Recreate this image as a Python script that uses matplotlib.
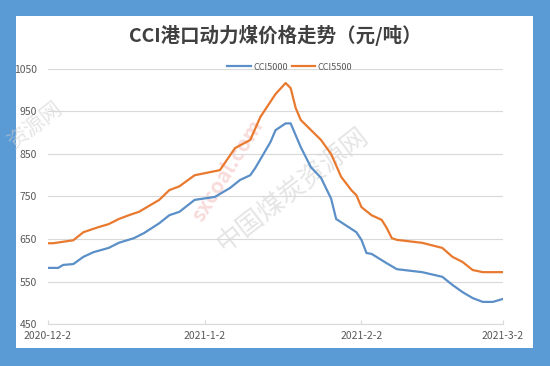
import matplotlib
matplotlib.use("Agg")
import matplotlib.pyplot as plt
from matplotlib.patches import Rectangle
import pandas as pd

plt.rcParams['font.family'] = ['Noto Sans CJK SC', 'DejaVu Sans']

title = "CCI港口动力煤价格走势（元/吨）"
series_names = ["CCI5000", "CCI5500"]

dates_5000 = ["2020-12-02", "2020-12-04", "2020-12-05", "2020-12-07", "2020-12-09", "2020-12-11",
              "2020-12-14", "2020-12-16", "2020-12-19", "2020-12-21", "2020-12-24", "2020-12-26",
              "2020-12-28", "2020-12-31", "2021-01-04", "2021-01-07", "2021-01-09", "2021-01-11",
              "2021-01-12", "2021-01-15", "2021-01-16", "2021-01-18", "2021-01-19", "2021-01-21",
              "2021-01-23", "2021-01-25", "2021-01-27", "2021-01-28", "2021-02-01", "2021-02-02",
              "2021-02-03", "2021-02-04", "2021-02-07", "2021-02-09", "2021-02-14", "2021-02-18",
              "2021-02-20", "2021-02-22", "2021-02-24", "2021-02-26", "2021-02-28", "2021-03-02"]
values_5000 = [582, 582, 589, 591, 608, 619,
               629, 641, 652, 664, 687, 706,
               714, 742, 749, 770, 789, 800,
               817, 878, 906, 922, 922, 866,
               819, 794, 745, 697, 666, 648,
               617, 615, 593, 579, 572, 561,
               542, 525, 511, 502, 502, 509]

dates_5500 = ["2020-12-02", "2020-12-03", "2020-12-07", "2020-12-09", "2020-12-12", "2020-12-14",
              "2020-12-16", "2020-12-18", "2020-12-20", "2020-12-21", "2020-12-24", "2020-12-26",
              "2020-12-28", "2020-12-31", "2021-01-05", "2021-01-08", "2021-01-11", "2021-01-13",
              "2021-01-16", "2021-01-18", "2021-01-19", "2021-01-20", "2021-01-21", "2021-01-25",
              "2021-01-27", "2021-01-29", "2021-01-31", "2021-02-01", "2021-02-02", "2021-02-04",
              "2021-02-06", "2021-02-07", "2021-02-08", "2021-02-09", "2021-02-14", "2021-02-18",
              "2021-02-20", "2021-02-22", "2021-02-24", "2021-02-26", "2021-03-02"]
values_5500 = [640, 640, 647, 666, 678, 685,
               697, 706, 714, 721, 742, 765,
               774, 800, 812, 864, 883, 937,
               991, 1017, 1005, 958, 930, 883,
               850, 796, 765, 753, 725, 706,
               695, 676, 652, 648, 641, 629,
               608, 596, 577, 572, 572]

x_tick_dates = ["2020-12-02", "2021-01-02", "2021-02-02", "2021-03-02"]
x_tick_labels = ["2020-12-2", "2021-1-2", "2021-2-2", "2021-3-2"]
y_ticks = [450, 550, 650, 750, 850, 950, 1050]

W, H = 550, 366
fig = plt.figure(figsize=(W / 100, H / 100), dpi=100)
fig.patch.set_facecolor("#5b9bd5")
panel = Rectangle((16 / W, 1 - 348 / H), (533 - 16) / W, (348 - 16) / H,
                  transform=fig.transFigure, facecolor="white", edgecolor="none", zorder=-10)
fig.patches.append(panel)

# faint watermark (behind the chart)
fig.text(228 / W, 1 - 170 / H, "sxcoal.com", rotation=58, fontsize=15, fontweight="bold",
         color="#f4c4c4", alpha=0.6, ha="center", va="center", zorder=-5)
fig.text(292 / W, 1 - 190 / H, "中国煤炭资源网", rotation=38, fontsize=19,
         color="#d0d0d0", alpha=0.55, ha="center", va="center", zorder=-5)
fig.text(35 / W, 1 - 125 / H, "资源网", rotation=38, fontsize=15,
         color="#d0d0d0", alpha=0.55, ha="center", va="center", zorder=-5)

ax = fig.add_axes([48 / W, 1 - 324 / H, (503 - 48) / W, (324 - 69) / H], zorder=1)
ax.set_facecolor("none")

d5000 = pd.to_datetime(dates_5000)
d5500 = pd.to_datetime(dates_5500)
l1, = ax.plot(d5000, values_5000, color="#5b8fc7", lw=1.6, solid_joinstyle="round", zorder=3)
l2, = ax.plot(d5500, values_5500, color="#e8792f", lw=1.6, solid_joinstyle="round", zorder=3)

ax.set_ylim(450, 1050)
ax.set_yticks(y_ticks)
ax.set_xlim(pd.Timestamp(x_tick_dates[0]), pd.Timestamp(x_tick_dates[-1]))
ax.set_xticks(pd.to_datetime(x_tick_dates))
ax.set_xticklabels(x_tick_labels)

ax.grid(axis="y", color="#d9d9d9", lw=0.8, zorder=1)
for s in ["top", "right", "left"]:
    ax.spines[s].set_visible(False)
ax.spines["bottom"].set_color("#d9d9d9")
ax.spines["bottom"].set_linewidth(0.8)
ax.tick_params(axis="y", length=0, pad=8, labelsize=7.5, labelcolor="#595959")
ax.tick_params(axis="x", length=3, direction="in", color="#d9d9d9", pad=5, labelsize=7.5, labelcolor="#595959")

fig.text(275 / W, 1 - 35 / H, title, ha="center", va="center", fontsize=14,
         fontweight="bold", color="#404040")

fig.legend([l1, l2], series_names, loc="center", bbox_to_anchor=(290 / W, 1 - 67 / H),
           ncol=2, frameon=False, fontsize=6.5, handlelength=2.6, handletextpad=0.3,
           columnspacing=0.4, labelcolor="#595959")

fig.savefig("out.png", dpi=100)
